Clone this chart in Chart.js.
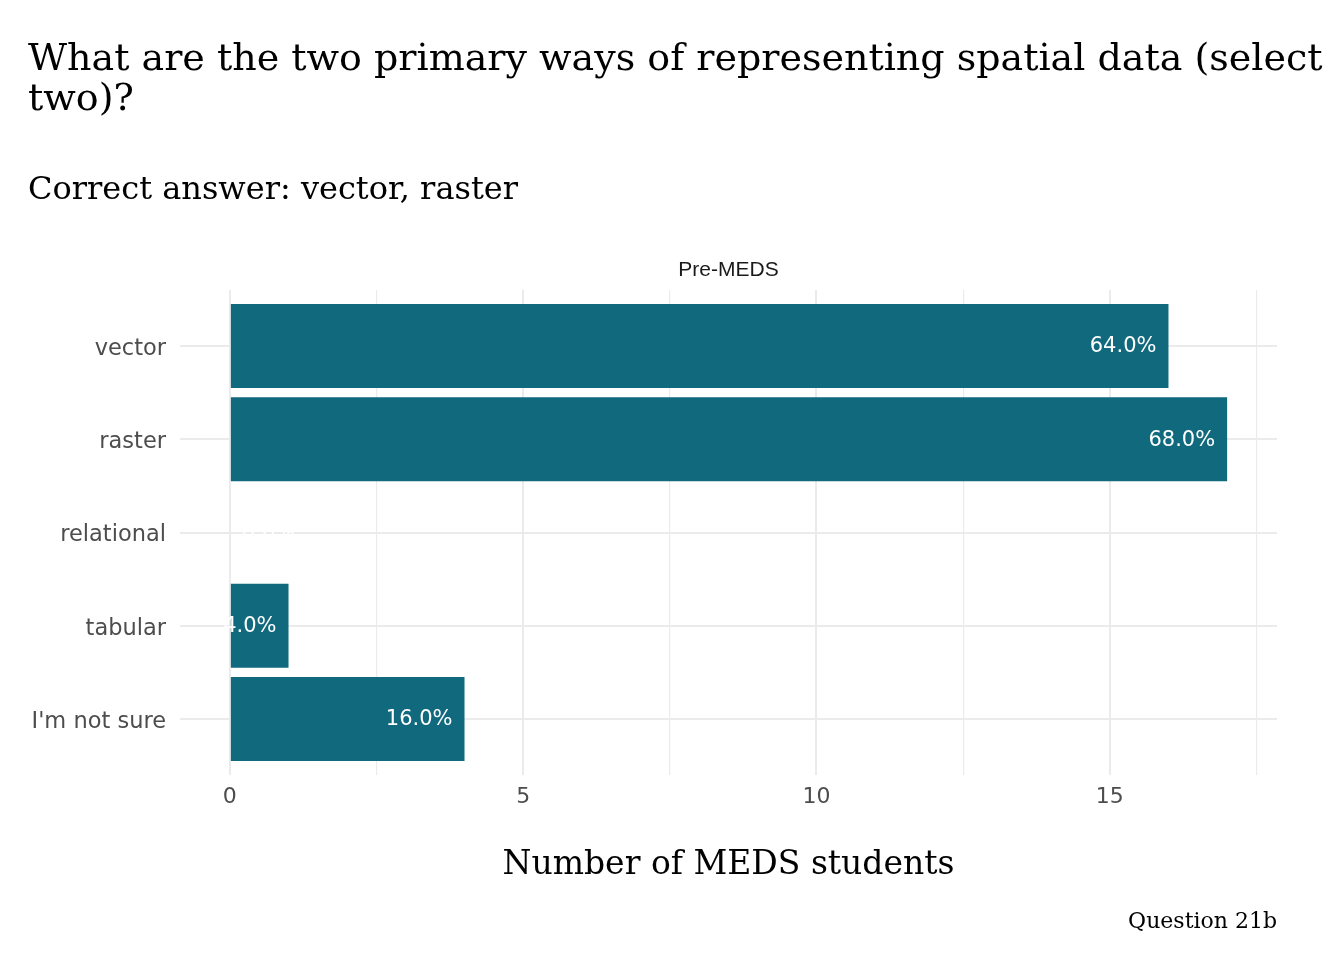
<!DOCTYPE html>
<html>
<head>
<meta charset="utf-8">
<script src="https://cdn.jsdelivr.net/npm/chart.js@4/dist/chart.umd.min.js"></script>
<style>
  body { margin: 0; background: #ffffff; }
  canvas { display: block; }
</style>
</head>
<body>
<canvas id="chart" width="1344" height="960"></canvas>
<script>
// data
const categories = ['vector', 'raster', 'relational', 'tabular', "I'm not sure"]
const counts = [16, 17, 0, 1, 4]
const pctLabels = ['64.0%', '68.0%', '0.0%', '4.0%', '16.0%']
const xTicks = [0, 2.5, 5, 7.5, 10, 12.5, 15, 17.5]

const titleLines = ['What are the two primary ways of representing spatial data (select', 'two)?']
const subtitle = 'Correct answer: vector, raster'
const facetLabel = 'Pre-MEDS'
const caption = 'Question 21b'

const barColor = '#10697d'
const gridColor = '#ebebeb'
const serif = '"DejaVu Serif", serif'
const sans = '"DejaVu Sans", sans-serif'

// titles, facet strip, caption and bar labels
const textPlugin = {
    id: 'textPlugin',
    afterDatasetsDraw(chart) {
        const ctx = chart.ctx
        const meta = chart.getDatasetMeta(0)
        ctx.save()
        ctx.font = '21px ' + sans
        ctx.fillStyle = '#ffffff'
        ctx.textBaseline = 'middle'
        meta.data.forEach((bar, i) => {
            if (counts[i] === 0) {
                ctx.textAlign = 'left'
                ctx.fillText(pctLabels[i], bar.x + 12, bar.y + 1)
            } else {
                ctx.textAlign = 'right'
                ctx.fillText(pctLabels[i], bar.x - 12, bar.y + 1)
            }
        })
        ctx.restore()
    },
    afterDraw(chart) {
        const ctx = chart.ctx
        const area = chart.chartArea
        ctx.save()
        ctx.fillStyle = '#000000'
        ctx.textBaseline = 'alphabetic'
        ctx.textAlign = 'left'
        ctx.font = '38px ' + serif
        ctx.fillText(titleLines[0], 28, 70)
        ctx.fillText(titleLines[1], 28, 110)
        ctx.font = '32px ' + serif
        ctx.fillText(subtitle, 28, 199)

        ctx.fillStyle = '#1a1a1a'
        ctx.textAlign = 'center'
        ctx.textBaseline = 'middle'
        ctx.font = '21px "Liberation Sans", Arial, sans-serif'
        ctx.fillText(facetLabel, (area.left + area.right) / 2, 270)

        ctx.fillStyle = '#000000'
        ctx.textAlign = 'right'
        ctx.textBaseline = 'alphabetic'
        ctx.font = '22px ' + serif
        ctx.fillText(caption, area.right, 928)
        ctx.restore()
    }
}

new Chart(document.getElementById('chart'), {
    type: 'bar',
    data: {
        datasets: [{
            data: counts.map((c, i) => ({ x: c, y: i })),
            backgroundColor: barColor,
            borderWidth: 0,
            inflateAmount: 0,
            barPercentage: 0.9,
            categoryPercentage: 1.0
        }]
    },
    options: {
        indexAxis: 'y',
        responsive: false,
        animation: false,
        devicePixelRatio: 1,
        layout: {
            padding: { top: 290, left: 28, right: 67, bottom: 0 }
        },
        plugins: {
            legend: { display: false },
            tooltip: { enabled: false }
        },
        scales: {
            x: {
                type: 'linear',
                min: -0.85,
                max: 17.85,
                afterBuildTicks: scale => { scale.ticks = xTicks.map(v => ({ value: v })) },
                afterFit: scale => { scale.height = 185 },
                grid: {
                    color: gridColor,
                    lineWidth: ctx => (ctx.tick && ctx.tick.value % 5 === 0 ? 2 : 1.2),
                    drawTicks: false
                },
                border: { display: false },
                ticks: {
                    padding: 9,
                    color: '#4d4d4d',
                    font: { family: sans, size: 22 },
                    callback: v => (v % 5 === 0 ? String(v) : '')
                },
                title: {
                    display: true,
                    text: 'Number of MEDS students',
                    color: '#000000',
                    font: { family: serif, size: 33 },
                    padding: { top: 0, bottom: 75 }
                }
            },
            y: {
                type: 'linear',
                reverse: true,
                offset: false,
                min: -0.6,
                max: 4.6,
                afterBuildTicks: scale => { scale.ticks = categories.map((c, i) => ({ value: i })) },
                afterFit: scale => { scale.width = 152 },
                grid: {
                    color: gridColor,
                    lineWidth: 2,
                    offset: false,
                    drawTicks: false
                },
                border: { display: false },
                ticks: {
                    padding: 14,
                    labelOffset: 3,
                    color: '#4d4d4d',
                    font: { family: sans, size: 22.5 },
                    callback: v => categories[v]
                }
            }
        }
    },
    plugins: [textPlugin]
})
</script>
</body>
</html>
